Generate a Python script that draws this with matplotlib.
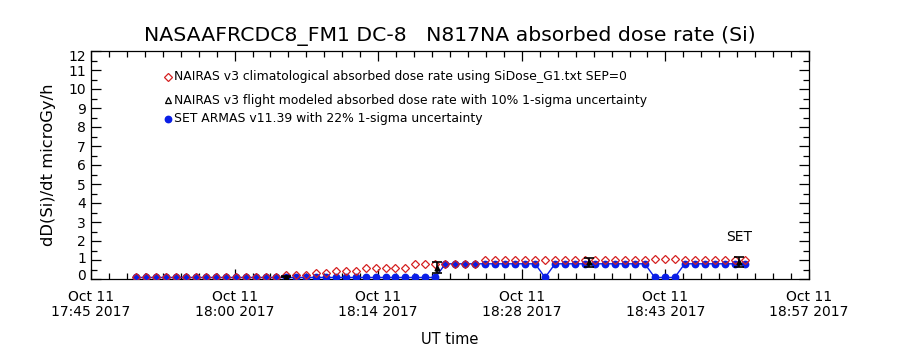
import matplotlib
matplotlib.use("Agg")
import matplotlib.pyplot as plt
import matplotlib.dates as mdates
from matplotlib.ticker import MultipleLocator, FixedLocator
import pandas as pd

# ARMAS one-minute samples
set_times = pd.date_range("2017-10-11 17:50:08", periods=62, freq="60s")
set_dose = ([0.08] * 31 + [0.8] * 10 + [0.08] + [0.8] * 10 + [0.08] * 3 + [0.8] * 7)

# NAIRAS climatological dose rate at the same times
clim_dose = ([0.08] * 13 + [0.12] * 2 + [0.22] * 3 + [0.30] * 2 + [0.42] * 3
             + [0.57] * 5 + [0.78] * 3 + [0.80] * 4 + [1.0] * 17 + [1.05] * 3
             + [1.0] * 7)

# NAIRAS flight-modeled points with uncertainty
flight_times = pd.to_datetime(["2017-10-11 18:05:10", "2017-10-11 18:20:20",
                               "2017-10-11 18:35:30", "2017-10-11 18:50:35"])
flight_dose = [0.12, 0.60, 0.87, 0.90]
flight_err = [0.03, 0.30, 0.22, 0.26]

axis_start = pd.Timestamp("2017-10-11 17:45:36")
axis_end = pd.Timestamp("2017-10-11 18:57:36")
tick_times = pd.date_range(axis_start, axis_end, periods=6)
tick_labels = ["Oct 11\n17:45 2017", "Oct 11\n18:00 2017", "Oct 11\n18:14 2017",
               "Oct 11\n18:28 2017", "Oct 11\n18:43 2017", "Oct 11\n18:57 2017"]
y_ticks = list(range(0, 13))

legend_labels = [
    "NAIRAS v3 climatological absorbed dose rate using SiDose_G1.txt SEP=0",
    "NAIRAS v3 flight modeled absorbed dose rate with 10% 1-sigma uncertainty",
    "SET ARMAS v11.39 with 22% 1-sigma uncertainty",
]

plt.rcParams["font.family"] = ["DejaVu Sans"]

fig = plt.figure(figsize=(9, 3.5), dpi=100)
ax = fig.add_axes([91 / 900, 1 - 279 / 350, 718 / 900, 228 / 350])

blue = "#0a1ee6"
red = "#d42020"

ax.plot(set_times, set_dose, color=blue, lw=1.0, marker="o", ms=4.6,
        mfc=blue, mec=blue, zorder=3)
ax.plot(set_times, clim_dose, ls="none", marker="D", ms=3.8, mfc="none",
        mec=red, mew=0.9, zorder=4)
ax.errorbar(flight_times, flight_dose, yerr=flight_err, fmt="^", ms=3.5,
            color="black", ecolor="black", elinewidth=1.2, capsize=3.5,
            capthick=1.2, zorder=5)

ax.text(pd.Timestamp("2017-10-11 18:50:35"), 2.2, "SET", ha="center",
        va="center", fontsize=10)

ax.set_xlim(axis_start, axis_end)
ax.set_ylim(0, 12)

ax.xaxis.set_major_locator(FixedLocator(mdates.date2num(tick_times)))
ax.set_xticklabels(tick_labels, fontsize=10, linespacing=1.1)
minor_times = pd.date_range(axis_start, axis_end, periods=41)
ax.xaxis.set_minor_locator(FixedLocator(mdates.date2num(minor_times)))

# middle labels as ticks; labels at the ends are nudged inward beside the axis
ax.yaxis.set_minor_locator(MultipleLocator(0.5))
ax.set_yticks(y_ticks)
nudged = {0: 2.0, 1: 1.0, 12: -4.2}
ax.set_yticklabels(["" if v in nudged else str(v) for v in y_ticks], fontsize=10)
for v, dy in nudged.items():
    ax.annotate(str(v), xy=(0, v), xycoords=("axes fraction", "data"),
                xytext=(-3.6, dy), textcoords="offset points",
                ha="right", va="center", fontsize=10)

ax.tick_params(which="both", direction="in", top=True, right=True,
               color="black", width=0.9)
ax.tick_params(which="major", length=7)
ax.tick_params(which="minor", length=4)
ax.tick_params(axis="x", which="major", pad=8)
ax.tick_params(axis="y", which="major", pad=3.6)
for sp in ax.spines.values():
    sp.set_linewidth(0.9)

ax.set_title("NASAAFRCDC8_FM1 DC-8   N817NA absorbed dose rate (Si)",
             fontsize=14.7, pad=7)
ax.set_xlabel("UT time", fontsize=10.5, labelpad=9)
ax.set_ylabel("dD(Si)/dt microGy/h", fontsize=11.8, labelpad=9)

# legend drawn as marker + text rows inside the axes
rows_y = [0.886, 0.785, 0.702]
mk = [dict(marker="D", ms=3.6, mfc="none", mec=red, mew=0.9),
      dict(marker="^", ms=4, mfc="none", mec="black", mew=0.9),
      dict(marker="o", ms=4.6, mfc=blue, mec=blue)]
for y, m, lab in zip(rows_y, mk, legend_labels):
    ax.plot([0.107], [y], transform=ax.transAxes, ls="none", clip_on=False, **m)
    ax.text(0.1156, y, lab, transform=ax.transAxes, fontsize=8.9,
            va="center", ha="left")

fig.savefig("out.png", dpi=100)
